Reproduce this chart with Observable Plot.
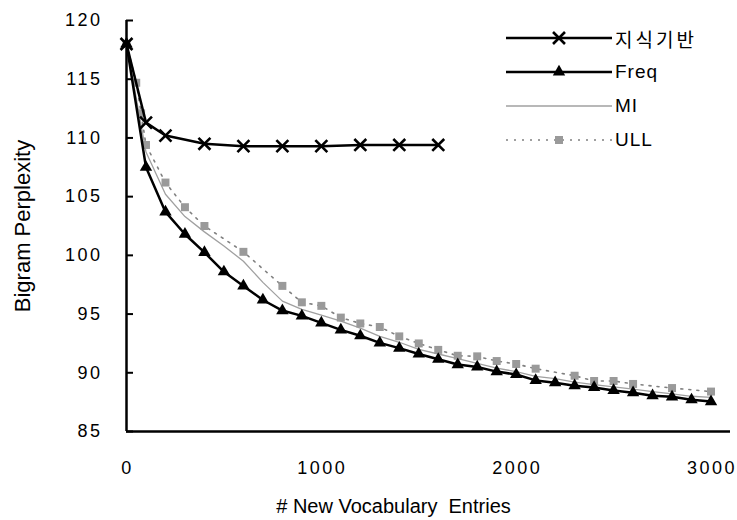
<!DOCTYPE html>
<html><head><meta charset="utf-8">
<script src="https://cdn.jsdelivr.net/npm/d3@7"></script>
<script src="https://cdn.jsdelivr.net/npm/@observablehq/plot@0.6"></script>
<style>
body{margin:0;background:#fff;}
#wrap{position:relative;width:737px;height:520px;font-family:"Liberation Sans",Arial,sans-serif;}
#legend{position:absolute;left:506px;top:21px;}
.row{display:flex;align-items:center;height:34px;}
.row span{font-size:19px;margin-left:3px;letter-spacing:1px;color:#000;}
.row span.ko{font-family:"Noto Sans CJK KR",sans-serif;font-size:19px;letter-spacing:3px;}
svg text{white-space:pre;}
g[aria-label="x-axis tick label"] text, g[aria-label="y-axis tick label"] text{letter-spacing:2.5px;}
</style></head>
<body><div id="wrap"><div id="legend"></div></div>
<script>
// ---- data ----
const seriesNames = ["지식기반", "Freq", "MI", "ULL"];

const knowX = [0, 100, 200, 400, 600, 800, 1000, 1200, 1400, 1600];
const knowY = [118, 111.3, 110.2, 109.5, 109.3, 109.3, 109.3, 109.4, 109.4, 109.4];

const freqX = [0,100,200,300,400,500,600,700,800,900,1000,1100,1200,1300,1400,1500,1600,1700,1800,1900,2000,2100,2200,2300,2400,2500,2600,2700,2800,2900,3000];
const freqY = [118,107.5,103.7,101.8,100.25,98.6,97.4,96.2,95.3,94.85,94.25,93.65,93.15,92.55,92.1,91.6,91.15,90.7,90.5,90.1,89.85,89.35,89.15,88.9,88.75,88.5,88.3,88.05,87.95,87.7,87.55];

const miX = [0,100,200,300,400,500,600,700,800,900,1000,1100,1200,1300,1400,1500,1600,1700,1800,1900,2000,2100,2200,2300,2400,2500,2600,2700,2800,2900,3000];
const miY = [118,108.8,105.2,103.3,102.0,100.8,99.5,97.7,96.1,95.4,94.9,94.4,93.8,93.1,92.6,92.0,91.6,91.2,90.8,90.4,90.1,89.7,89.5,89.2,89.0,88.8,88.6,88.4,88.2,88.0,87.9];

const ullX = [0,50,75,100,200,300,400,600,800,900,1000,1100,1200,1300,1400,1500,1600,1700,1800,1900,2000,2100,2300,2400,2500,2600,2800,3000];
const ullY = [118,114.7,112.1,109.4,106.2,104.1,102.5,100.3,97.4,96.0,95.7,94.7,94.2,93.9,93.1,92.5,91.95,91.45,91.4,91.0,90.75,90.35,89.75,89.3,89.3,89.05,88.7,88.4];

const xTicks = [0, 1000, 2000, 3000];
const yTicks = [85, 90, 95, 100, 105, 110, 115, 120];
const xTitle = "# New Vocabulary  Entries";
const yTitle = "Bigram Perplexity";

const rows = (xs, ys) => xs.map((x, i) => ({x, y: ys[i]}));
const knowRows = rows(knowX, knowY);
const freqRows = rows(freqX, freqY);
const miRows = rows(miX, miY);
const ullRows = rows(ullX, ullY);

const chart = Plot.plot({
  width: 737, height: 520,
  marginLeft: 126, marginRight: 7, marginTop: 20, marginBottom: 89,
  style: {fontFamily: "Liberation Sans, Arial, sans-serif", background: "#fff", color: "#000"},
  x: {domain: [0, 3100]},
  y: {domain: [85, 120]},
  marks: [
    Plot.axisX(xTicks, {tickSize: 0, tickPadding: 30, fontSize: 18, label: null, tickFormat: d => String(d), dx: 1}),
    Plot.axisY(yTicks, {tickSize: -7, tickPadding: 31, fontSize: 18, label: null, strokeWidth: 2, tickFormat: d => String(d)}),
    Plot.ruleX([0], {strokeWidth: 2.5}),
    Plot.ruleY([85], {strokeWidth: 2.5}),
    Plot.line(miRows, {x: "x", y: "y", stroke: "#a0a0a0", strokeWidth: 1.3}),
    Plot.line(ullRows, {x: "x", y: "y", stroke: "#808080", strokeWidth: 1.6, strokeDasharray: "2,6"}),
    Plot.dot(ullRows, {x: "x", y: "y", symbol: "square", r: 4.5, fill: "#9a9a9a"}),
    Plot.line(freqRows, {x: "x", y: "y", stroke: "#000", strokeWidth: 2.5}),
    Plot.dot(freqRows, {x: "x", y: "y", symbol: "triangle", r: 4.6, fill: "#000"}),
    Plot.line(knowRows, {x: "x", y: "y", stroke: "#000", strokeWidth: 2.5}),
    Plot.dot(knowRows, {x: "x", y: "y", symbol: "times", r: 5.5, stroke: "#000", strokeWidth: 2.6}),
    Plot.text([xTitle], {frameAnchor: "bottom", lineAnchor: "middle", textAnchor: "middle", dy: 75, dx: -35, fontSize: 20, fill: "#000"}),
    Plot.text([yTitle], {frameAnchor: "left", lineAnchor: "middle", textAnchor: "middle", dx: -104, rotate: -90, fontSize: 22, fill: "#000"})
  ]
});
document.getElementById("wrap").prepend(chart);

// ---- legend ----
const legendStyles = [
  {line: {stroke: "#000", w: 2.5}, sym: "times"},
  {line: {stroke: "#000", w: 2.5}, sym: "triangle"},
  {line: {stroke: "#a0a0a0", w: 1.3}, sym: null},
  {line: {stroke: "#808080", w: 1.6, dash: "2,6"}, sym: "square"}
];
const leg = document.getElementById("legend");
seriesNames.forEach((name, i) => {
  const st = legendStyles[i];
  const row = document.createElement("div");
  row.className = "row";
  const ns = "http://www.w3.org/2000/svg";
  const svg = document.createElementNS(ns, "svg");
  svg.setAttribute("width", 106); svg.setAttribute("height", 20);
  const ln = document.createElementNS(ns, "line");
  ln.setAttribute("x1", 0); ln.setAttribute("x2", 106);
  ln.setAttribute("y1", 10); ln.setAttribute("y2", 10);
  ln.setAttribute("stroke", st.line.stroke);
  ln.setAttribute("stroke-width", st.line.w);
  if (st.line.dash) ln.setAttribute("stroke-dasharray", st.line.dash);
  svg.appendChild(ln);
  if (st.sym) {
    const p = document.createElementNS(ns, "path");
    const r = st.sym === "times" ? 5.5 : st.sym === "triangle" ? 4.6 : 4.5;
    const t = st.sym === "times" ? d3.symbolTimes : st.sym === "triangle" ? d3.symbolTriangle : d3.symbolSquare;
    p.setAttribute("d", d3.symbol(t, r * r * Math.PI)());
    p.setAttribute("transform", "translate(53,10)");
    if (st.sym === "times") { p.setAttribute("fill", "none"); p.setAttribute("stroke", "#000"); p.setAttribute("stroke-width", 2.6); }
    else p.setAttribute("fill", st.sym === "triangle" ? "#000" : "#9a9a9a");
    svg.appendChild(p);
  }
  row.appendChild(svg);
  const sp = document.createElement("span");
  sp.textContent = name;
  if (i === 0) sp.className = "ko";
  row.appendChild(sp);
  leg.appendChild(row);
});
</script>
</body></html>
